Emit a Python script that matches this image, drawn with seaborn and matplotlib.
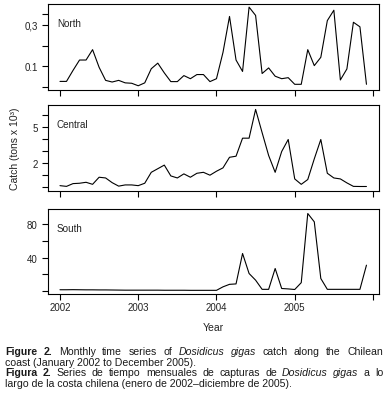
import numpy as np
import pandas as pd
import seaborn as sns
import matplotlib.pyplot as plt

# monthly catch, Jan 2002 .. Dec 2005 (tons x 10^3)
north = [0.027, 0.027, 0.08, 0.13, 0.13, 0.18, 0.095, 0.032, 0.024, 0.032, 0.02, 0.018,
         0.006, 0.02, 0.088, 0.115, 0.068, 0.026, 0.026, 0.055, 0.04, 0.06, 0.06, 0.026,
         0.04, 0.167, 0.34, 0.13, 0.075, 0.385, 0.345, 0.065, 0.092, 0.052, 0.04, 0.045,
         0.013, 0.013, 0.18, 0.103, 0.143, 0.32, 0.37, 0.034, 0.087, 0.312, 0.29, 0.013]
central = [0.09, 0.03, 0.26, 0.29, 0.37, 0.2, 0.79, 0.73, 0.34, 0.05, 0.15, 0.15,
           0.09, 0.29, 1.2, 1.5, 1.8, 0.9, 0.73, 1.07, 0.79, 1.12, 1.2, 0.96,
           1.29, 1.57, 2.45, 2.54, 4.04, 4.04, 6.43, 4.5, 2.6, 1.2, 2.93, 3.93,
           0.65, 0.2, 0.6, 2.32, 3.93, 1.12, 0.73, 0.65, 0.32, 0.03, 0.02, 0.02]
south = [1.5, 1.5, 1.6, 1.5, 1.4, 1.4, 1.3, 1.3, 1.2, 1.1, 1.0, 1.0,
         1.0, 1.0, 1.0, 1.0, 0.9, 0.9, 0.9, 0.9, 0.8, 0.8, 0.8, 0.8,
         0.8, 5, 8, 8.5, 45, 21, 13, 2, 2, 27, 3, 2.5,
         1.8, 10, 93, 83, 15, 2, 2, 2, 2, 2, 2, 31]
month_idx = np.arange(48)
years = 2002 + month_idx / 12

year_ticks = [2002, 2003, 2004, 2005, 2006]
year_labels = ['2002', '2003', '2004', '2005', '']

north_ticks = [0, 0.1, 0.2, 0.3, 0.35]
north_labels = ['', '0.1', '', '0,3', '']
central_ticks = [0, 1, 2, 3, 4, 5, 6]
central_labels = ['', '', '2', '', '', '5', '']
south_ticks = [0, 20, 40, 60, 80]
south_labels = ['', '', '40', '', '80']

sns.set_style('ticks')
plt.rcParams['font.family'] = ['Liberation Sans', 'DejaVu Sans']

W, H = 387, 414
fig = plt.figure(figsize=(W / 100, H / 100), dpi=100)

panels = [
    ('North', north, (5, 90.7), (-0.013, 0.40), north_ticks, north_labels),
    ('Central', central, (106, 191.7), (-0.33, 6.8), central_ticks, central_labels),
    ('South', south, (210, 295), (-3.6, 98.4), south_ticks, south_labels),
]

axes = []
for name, vals, (top, bot), ylim, yt, yl in panels:
    ax = fig.add_axes([48 / W, 1 - bot / H, (379 - 48) / W, (bot - top) / H])
    df = pd.DataFrame({'year': years, 'catch': vals})
    sns.lineplot(data=df, x='year', y='catch', ax=ax, color='black', linewidth=0.8)
    ax.set_xlim(2001.847, 2006.077)
    ax.set_ylim(*ylim)
    ax.set_xticks(year_ticks)
    ax.set_yticks(yt)
    ax.set_yticklabels(yl)
    ax.set_xlabel('')
    ax.set_ylabel('')
    for s in ax.spines.values():
        s.set_visible(True)
        s.set_linewidth(0.8)
        s.set_color('black')
    ax.tick_params(axis='both', direction='out', length=4.5, width=0.8,
                   labelsize=7, colors='black', labelcolor='#222222')
    ax.tick_params(axis='y', pad=3)
    ax.tick_params(axis='x', pad=1.5)
    ax.text(0.027, 0.78, name, transform=ax.transAxes, va='center', ha='left',
            fontsize=7.1, color='#222222')
    axes.append(ax)

axes[0].set_xticklabels([])
axes[1].set_xticklabels([])
axes[2].set_xticklabels(year_labels)

fig.text(15 / W, 1 - 149 / H, 'Catch (tons x 10³)', rotation=90, ha='center', va='center',
         fontsize=7.5, color='#222222')
fig.text(213.5 / W, 1 - 328 / H, 'Year', ha='center', va='center', fontsize=7.5, color='#222222')

# caption: justified lines, mixed bold / italic words
r = fig.canvas.get_renderer()


def text_width(txt, **kw):
    t = fig.text(0, 0, txt, **kw)
    w = t.get_window_extent(renderer=r).width
    t.remove()
    return w


cap_size = 7.6
cap_color = '#1a1a1a'
caption = [
    (355, True, [('Figure 2.', 'bold', 'normal'), ('Monthly time series of', 'normal', 'normal'),
                 ('Dosidicus gigas', 'normal', 'italic'), ('catch along the Chilean', 'normal', 'normal')]),
    (366, False, [('coast (January 2002 to December 2005).', 'normal', 'normal')]),
    (376.5, True, [('Figura 2.', 'bold', 'normal'), ('Series de tiempo mensuales de capturas de', 'normal', 'normal'),
                   ('Dosidicus gigas', 'normal', 'italic'), ('a lo', 'normal', 'normal')]),
    (387.5, False, [('largo de la costa chilena (enero de 2002–diciembre de 2005).', 'normal', 'normal')]),
]
x0, x1 = 5.0, 383.0
for ybase, justify, pieces in caption:
    if not justify:
        txt, wt, st = pieces[0]
        fig.text(x0 / W, 1 - ybase / H, txt, ha='left', va='baseline',
                 fontsize=cap_size, fontweight=wt, fontstyle=st, color=cap_color)
        continue
    words = []
    for txt, wt, st in pieces:
        for w in txt.split(' '):
            words.append((w, dict(fontsize=cap_size, fontweight=wt, fontstyle=st, color=cap_color)))
    widths = [text_width(w, **kw) for w, kw in words]
    gap = (x1 - x0 - sum(widths)) / (len(words) - 1)
    x = x0
    for (w, kw), wd in zip(words, widths):
        fig.text(x / W, 1 - ybase / H, w, ha='left', va='baseline', **kw)
        x += wd + gap

fig.savefig('out.png', dpi=100)
